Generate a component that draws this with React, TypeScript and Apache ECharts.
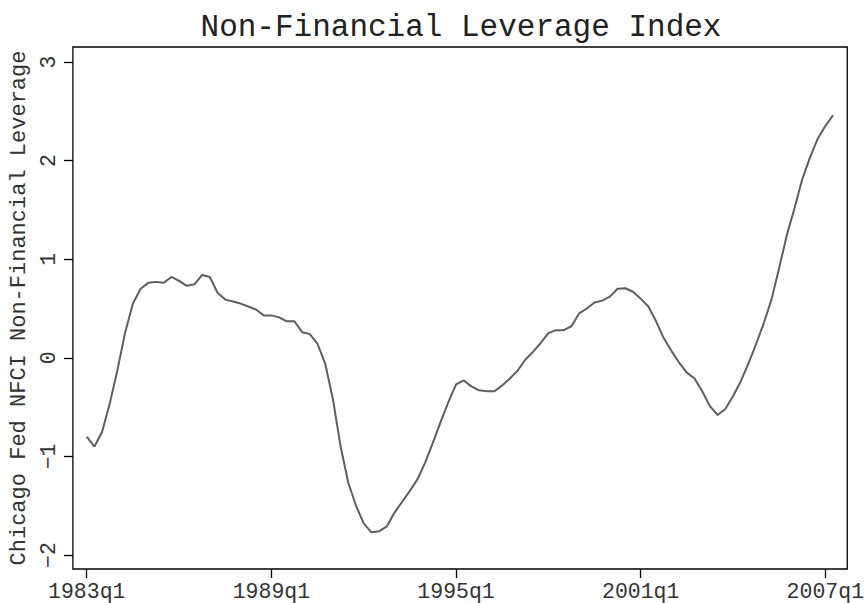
import React, { useEffect, useRef } from "react";
import * as echarts from "echarts";

// Chicago Fed NFCI non-financial leverage subindex, quarterly from 1983q1
const startYear = 1983;
const leverage: number[] = [
  -0.8, -0.9, -0.75, -0.46, -0.12, 0.26, 0.55, 0.7,
  0.76, 0.77, 0.76, 0.82, 0.78, 0.73, 0.745, 0.84,
  0.82, 0.66, 0.59, 0.57, 0.55, 0.52, 0.49, 0.43,
  0.43, 0.41, 0.37, 0.37, 0.26, 0.24, 0.14, -0.06,
  -0.42, -0.9, -1.27, -1.5, -1.68, -1.77, -1.76, -1.71,
  -1.57, -1.46, -1.35, -1.23, -1.06, -0.86, -0.65, -0.45,
  -0.27, -0.23, -0.29, -0.33, -0.34, -0.34, -0.28, -0.21,
  -0.13, -0.02, 0.06, 0.15, 0.25, 0.28, 0.28, 0.32,
  0.45, 0.5, 0.56, 0.58, 0.62, 0.7, 0.705, 0.67,
  0.6, 0.52, 0.37, 0.2, 0.07, -0.05, -0.15, -0.21,
  -0.34, -0.49, -0.58, -0.52, -0.39, -0.24, -0.06, 0.14,
  0.35, 0.59, 0.91, 1.245, 1.52, 1.81, 2.03, 2.22,
  2.35, 2.46,
];

// quarter labels for each observation
const quarters: string[] = leverage.map(
  (_, i) => `${startYear + Math.floor(i / 4)}q${(i % 4) + 1}`
);

const xTickLabels: string[] = ["1983q1", "1989q1", "1995q1", "2001q1", "2007q1"];
const yTickValues: number[] = [-2, -1, 0, 1, 2, 3];

const titleText = "Non-Financial Leverage Index";
const yAxisTitle = "Chicago Fed NFCI Non-Financial Leverage";

const FONT = "'Liberation Mono', 'DejaVu Sans Mono', monospace";

export default function App() {
  const ref = useRef<HTMLDivElement>(null);

  useEffect(() => {
    if (!ref.current) return;
    const chart = echarts.init(ref.current, undefined, { renderer: "svg" });

    const xTickPositions = xTickLabels.map((q) => quarters.indexOf(q));
    const GRID = { left: 72, top: 47, width: 778, height: 522 };

    chart.setOption({
      animation: false,
      backgroundColor: "#ffffff",
      graphic: [
        {
          type: "text",
          x: GRID.left + GRID.width / 2,
          y: 27,
          style: {
            text: titleText,
            fontFamily: FONT,
            fontSize: 31,
            fill: "#222222",
            textAlign: "center",
            textVerticalAlign: "middle",
          },
        },
      ],
      grid: {
        ...GRID,
        show: true,
        borderColor: "#000000",
        borderWidth: 1.3,
        backgroundColor: "#ffffff",
      },
      xAxis: {
        type: "value",
        min: -1.8,
        max: 98.85,
        axisLine: { show: false, onZero: false },
        splitLine: { show: false },
        axisTick: {
          show: true,
          length: 9,
          customValues: xTickPositions,
          lineStyle: { color: "#000000", width: 1.3 },
        },
        axisLabel: {
          customValues: xTickPositions,
          formatter: (v: number) => quarters[Math.round(v)] ?? "",
          fontFamily: FONT,
          fontSize: 21.5,
          color: "#333333",
          margin: 12,
        },
      },
      yAxis: {
        type: "value",
        min: -2.142,
        max: 3.152,
        name: yAxisTitle,
        nameLocation: "middle",
        nameRotate: 90,
        nameGap: 37,
        nameTextStyle: {
          fontFamily: FONT,
          fontSize: 22,
          color: "#333333",
        },
        axisLine: { show: false, onZero: false },
        splitLine: { show: false },
        axisTick: {
          show: true,
          length: 9,
          customValues: yTickValues,
          lineStyle: { color: "#000000", width: 1.3 },
        },
        axisLabel: {
          customValues: yTickValues,
          rotate: 90,
          formatter: (v: number) => (v < 0 ? "\u2212" + Math.abs(v) : String(v)),
          fontFamily: FONT,
          fontSize: 21.5,
          color: "#333333",
          margin: 13,
        },
      },
      series: [
        {
          type: "line",
          data: leverage.map((v, i) => [i, v]),
          showSymbol: false,
          lineStyle: { color: "#5e5e5e", width: 2 },
          silent: true,
        },
      ],
    });

    return () => chart.dispose();
  }, []);

  return (
    <div
      ref={ref}
      style={{ position: "fixed", left: 0, top: 0, width: 867, height: 603 }}
    />
  );
}
